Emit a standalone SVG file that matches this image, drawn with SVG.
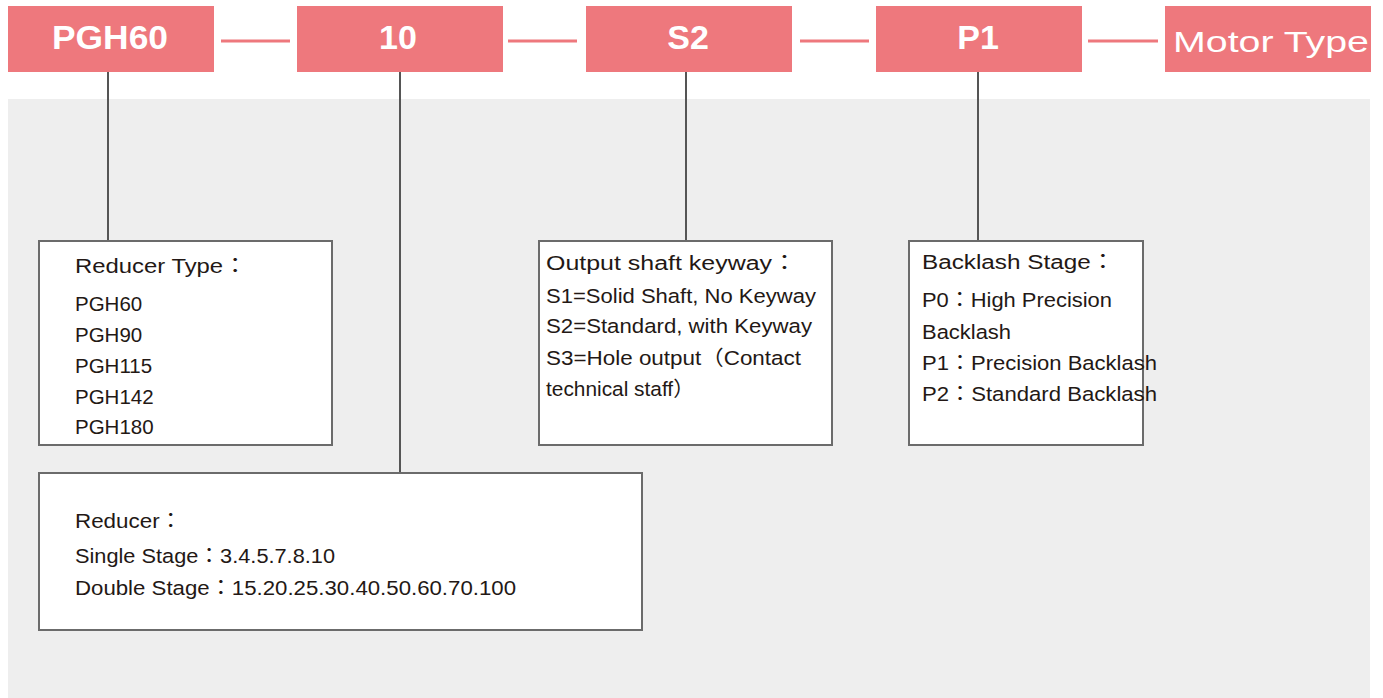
<svg xmlns="http://www.w3.org/2000/svg" width="1383" height="698" viewBox="0 0 1383 698">
<style>
.top{fill:#EE787D}
.tl{font-family:"Liberation Sans",Arial,sans-serif;font-weight:bold;font-size:34px;fill:#fff;text-anchor:middle}
.mt{font-family:"Liberation Sans",Arial,sans-serif;font-size:30px;fill:#fff}
.box{fill:#fff;stroke:#6b6b6b;stroke-width:2}
.hd{font-family:"Liberation Sans","Noto Sans CJK JP",sans-serif;font-size:20px;fill:#231815}
.tx{font-family:"Liberation Sans","Noto Sans CJK JP",sans-serif;font-size:20.5px;fill:#231815}
.dash{stroke:#EE787D;stroke-width:3}
.vl{stroke:#555;stroke-width:2}
</style>
<rect x="8" y="99" width="1362" height="599" fill="#eeeeee"/>
<g id="connectors">
<line class="dash" x1="221" y1="41" x2="290" y2="41"/>
<line class="dash" x1="508" y1="41" x2="577" y2="41"/>
<line class="dash" x1="800" y1="41" x2="869" y2="41"/>
<line class="dash" x1="1088" y1="41" x2="1158" y2="41"/>
<line class="vl" x1="108" y1="72" x2="108" y2="241"/>
<line class="vl" x1="400" y1="72" x2="400" y2="473"/>
<line class="vl" x1="686" y1="72" x2="686" y2="241"/>
<line class="vl" x1="978" y1="72" x2="978" y2="241"/>
</g>
<g id="n-pgh60"><rect class="top" x="8" y="6" width="206" height="66"/><text class="tl" x="110" y="49" textLength="116" lengthAdjust="spacingAndGlyphs">PGH60</text></g>
<g id="n-10"><rect class="top" x="297" y="6" width="206" height="66"/><text class="tl" x="398" y="49">10</text></g>
<g id="n-s2"><rect class="top" x="586" y="6" width="206" height="66"/><text class="tl" x="688" y="49">S2</text></g>
<g id="n-p1"><rect class="top" x="876" y="6" width="206" height="66"/><text class="tl" x="978" y="49">P1</text></g>
<g id="n-motor"><rect class="top" x="1165" y="6" width="206" height="66"/><text class="mt" x="1173" y="52" textLength="196" lengthAdjust="spacingAndGlyphs">Motor Type</text></g>
<g id="n-reducer-type">
<rect class="box" x="39" y="241" width="293" height="204"/>
<text class="hd" x="75" y="273" textLength="172" lengthAdjust="spacingAndGlyphs">Reducer Type：</text>
<text class="tx" x="75" y="311">PGH60</text>
<text class="tx" x="75" y="342">PGH90</text>
<text class="tx" x="75" y="373">PGH115</text>
<text class="tx" x="75" y="404">PGH142</text>
<text class="tx" x="75" y="434">PGH180</text>
</g>
<g id="n-output">
<rect class="box" x="539" y="241" width="293" height="204"/>
<text class="hd" x="546" y="270" textLength="251" lengthAdjust="spacingAndGlyphs">Output shaft keyway：</text>
<text class="tx" x="546" y="303" textLength="270" lengthAdjust="spacingAndGlyphs">S1=Solid Shaft, No Keyway</text>
<text class="tx" x="546" y="333" textLength="266" lengthAdjust="spacingAndGlyphs">S2=Standard, with Keyway</text>
<text class="tx" x="546" y="365" textLength="255" lengthAdjust="spacingAndGlyphs">S3=Hole output（Contact</text>
<text class="tx" x="546" y="396" textLength="148" lengthAdjust="spacingAndGlyphs">technical staff）</text>
</g>
<g id="n-backlash">
<rect class="box" x="909" y="241" width="234" height="204"/>
<text class="hd" x="922" y="269" textLength="193" lengthAdjust="spacingAndGlyphs">Backlash Stage：</text>
<text class="tx" x="922" y="307" textLength="190" lengthAdjust="spacingAndGlyphs">P0：High Precision</text>
<text class="tx" x="922" y="339" textLength="89" lengthAdjust="spacingAndGlyphs">Backlash</text>
<text class="tx" x="922" y="370" textLength="235" lengthAdjust="spacingAndGlyphs">P1：Precision Backlash</text>
<text class="tx" x="922" y="401" textLength="235" lengthAdjust="spacingAndGlyphs">P2：Standard Backlash</text>
</g>
<g id="n-reducer">
<rect class="box" x="39" y="473" width="603" height="157"/>
<text class="hd" x="75" y="528" textLength="107" lengthAdjust="spacingAndGlyphs">Reducer：</text>
<text class="tx" x="75" y="563" textLength="260" lengthAdjust="spacingAndGlyphs">Single Stage：3.4.5.7.8.10</text>
<text class="tx" x="75" y="595" textLength="441" lengthAdjust="spacingAndGlyphs">Double Stage：15.20.25.30.40.50.60.70.100</text>
</g>
</svg>
